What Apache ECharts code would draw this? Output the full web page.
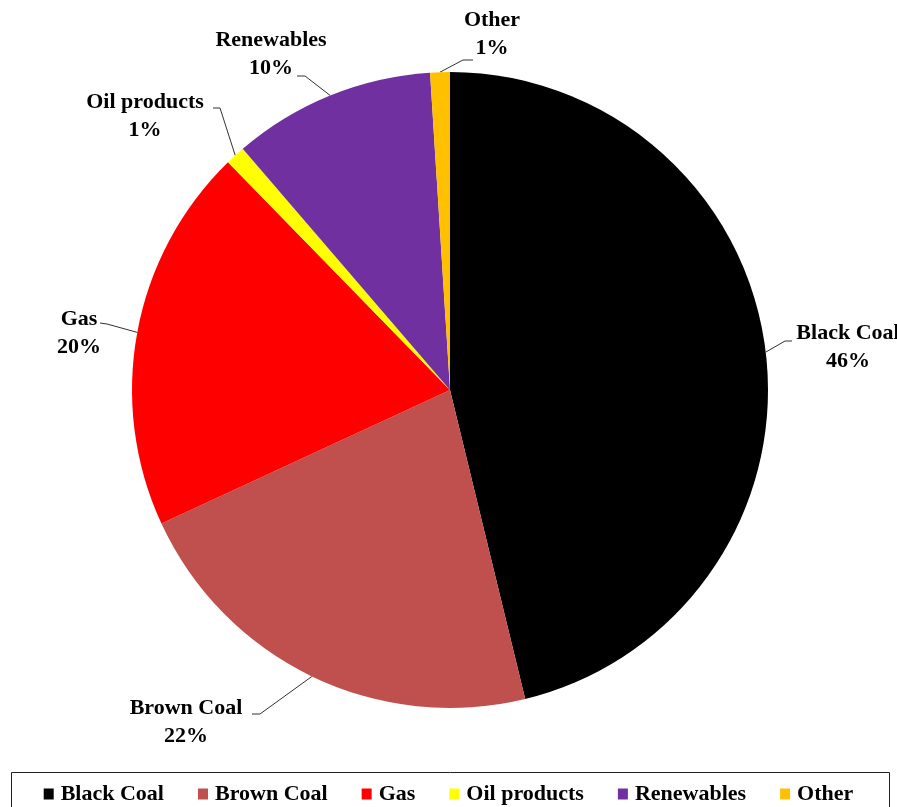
<!DOCTYPE html>
<html>
<head>
<meta charset="utf-8">
<script src="https://cdn.jsdelivr.net/npm/echarts@6/dist/echarts.min.js"></script>
<style>
html,body{margin:0;padding:0;background:#fff;}
#chart{width:897px;height:807px;}
</style>
</head>
<body>
<div id="chart"></div>
<script>
const categories = ['Black Coal', 'Brown Coal', 'Gas', 'Oil products', 'Renewables', 'Other'];
const shares = [46.2, 21.9, 19.6, 1.0, 10.3, 1.0];
const colors = ['#000000', '#C0504D', '#FF0000', '#FFFF00', '#7030A0', '#FFC000'];

// label placement (layout only): text block centre and leader-line elbow/end
const labelPlacement = [
  { x: 848, y: 347, elbow: [785, 341], end: [792, 341] },
  { x: 186, y: 722, elbow: [260, 714], end: [252, 714] },
  { x: 79,  y: 333, elbow: [107, 324], end: [100, 323] },
  { x: 145, y: 116, elbow: [220, 108], end: [213, 108] },
  { x: 271, y: 54,  elbow: [305, 76],  end: [297, 76] },
  { x: 492, y: 34,  elbow: [463, 60],  end: [473, 60] }
];

const font = '"Liberation Serif", "Times New Roman", serif';
const chart = echarts.init(document.getElementById('chart'));
chart.setOption({
  animation: false,
  backgroundColor: '#fff',
  color: colors,
  graphic: [{
    type: 'rect',
    shape: { x: 11.5, y: 772.5, width: 878, height: 44 },
    style: { fill: 'none', stroke: '#222', lineWidth: 1 },
    silent: true
  }],
  legend: {
    data: categories,
    left: 'center',
    top: 778,
    icon: 'rect',
    itemWidth: 10,
    itemHeight: 11,
    itemGap: 34,
    textStyle: { fontFamily: font, fontWeight: 'bold', fontSize: 22, color: '#000', padding: [0, 0, 0, 2] }
  },
  series: [{
    type: 'pie',
    center: [450, 390],
    radius: 318,
    startAngle: 90,
    clockwise: true,
    avoidLabelOverlap: false,
    itemStyle: { borderWidth: 0 },
    label: {
      show: true,
      position: 'outside',
      fontFamily: font,
      fontWeight: 'bold',
      fontSize: 22,
      lineHeight: 28,
      color: '#000',
      align: 'center',
      formatter: function (p) { return p.name + '\n' + Math.round(p.value) + '%'; }
    },
    labelLine: { show: true, lineStyle: { color: '#333', width: 1 } },
    labelLayout: function (params) {
      const lp = labelPlacement[params.dataIndex];
      const start = params.labelLinePoints ? params.labelLinePoints[0] : lp.elbow;
      return {
        x: lp.x,
        y: lp.y,
        align: 'center',
        verticalAlign: 'middle',
        labelLinePoints: [start, lp.elbow, lp.end]
      };
    },
    data: categories.map(function (c, i) { return { name: c, value: shares[i] }; })
  }]
});
</script>
</body>
</html>
